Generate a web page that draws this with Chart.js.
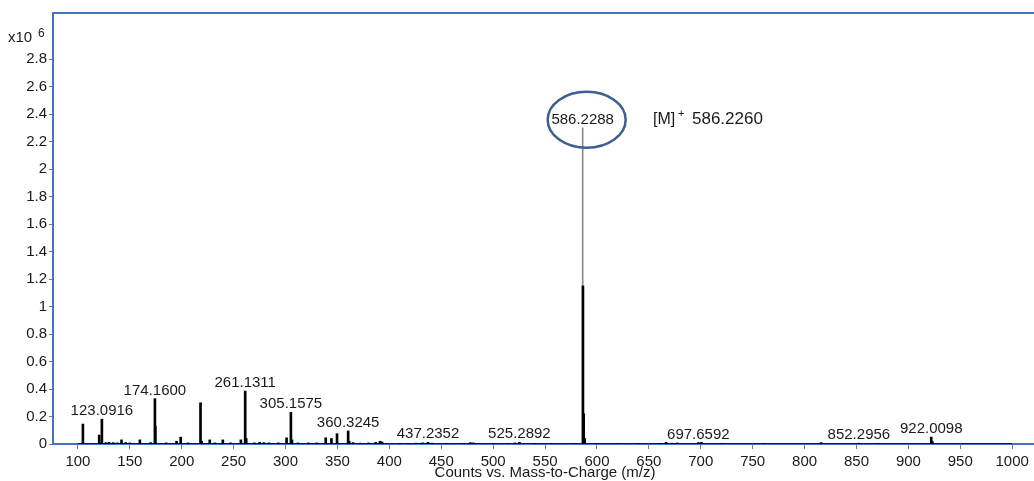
<!DOCTYPE html>
<html>
<head>
<meta charset="utf-8">
<script src="https://cdn.jsdelivr.net/npm/chart.js@4/dist/chart.umd.min.js"></script>
<style>
  html, body { margin: 0; padding: 0; background: #fff; }
  #spectrum { display: block; }
</style>
</head>
<body>
<canvas id="spectrum" width="1034" height="481"></canvas>
<script>
// Mass spectrum data (intensity in counts x10^6)
const peakMz = [
  104.8, 120.5, 123.09, 127, 130, 134, 138, 142, 146, 150, 159.7, 170,
  174.16, 174.6, 185, 195, 199, 206, 218.1, 219.1, 227, 232, 239.6, 247,
  257, 261.13, 262.1, 270, 275, 279, 284, 293, 301, 305.16, 306.2, 312,
  322, 330, 338.7, 344.2, 349.6, 360.32, 361.3, 365, 372, 380, 387, 391,
  393, 410, 418, 426, 432, 437.24, 441, 455, 470, 478, 481, 500, 515, 521,
  525.29, 540, 556, 578, 586.5, 587.2, 588.2, 600, 620, 640, 660, 666.6,
  672, 677.5, 697.66, 700.6, 720.9, 760, 816, 852.3, 870, 922.01, 923
];
const peakIntensity = [
  0.145, 0.065, 0.18, 0.01, 0.012, 0.01, 0.008, 0.03, 0.01, 0.008, 0.03, 0.01,
  0.33, 0.13, 0.008, 0.02, 0.05, 0.008, 0.30, 0.02, 0.03, 0.008, 0.03, 0.008,
  0.03, 0.385, 0.04, 0.008, 0.012, 0.01, 0.008, 0.008, 0.045, 0.23, 0.03, 0.008,
  0.008, 0.008, 0.045, 0.04, 0.075, 0.095, 0.02, 0.01, 0.006, 0.008, 0.012, 0.02,
  0.015, 0.005, 0.005, 0.006, 0.008, 0.012, 0.006, 0.005, 0.005, 0.01, 0.008, 0.004, 0.005, 0.008,
  0.012, 0.004, 0.005, 0.004, 1.15, 0.22, 0.04, 0.004, 0.004, 0.005, 0.005, 0.012,
  0.006, 0.008, 0.01, 0.012, 0.004, 0.003, 0.01, 0.006, 0.003, 0.05, 0.02
];

// base peak (drawn as thin grey stick)
const mainPeakMz = [586.2288];
const mainPeakIntensity = [2.30];

// annotated peaks
const labelMz = [123.09, 174.16, 261.13, 305.16, 360.32, 437.24, 525.29, 586.2288, 697.66, 852.3, 922.01];
const labelIntensity = [0.18, 0.33, 0.385, 0.23, 0.095, 0.012, 0.012, 2.30, 0.01, 0.006, 0.05];
const labelText = ['123.0916', '174.1600', '261.1311', '305.1575', '360.3245', '437.2352',
  '525.2892', '586.2288', '697.6592', '852.2956', '922.0098'];

// scan range / axes
const scanRange = [100, 1000];
const xTicks = [100, 150, 200, 250, 300, 350, 400, 450, 500, 550, 600, 650, 700, 750, 800, 850, 900, 950, 1000];
const yTicks = [0, 0.2, 0.4, 0.6, 0.8, 1, 1.2, 1.4, 1.6, 1.8, 2, 2.2, 2.4, 2.6, 2.8];

const FRAME_BLUE = '#4672c4';
const TEXT = '#1a1a1a';
const FONT = "'Liberation Sans', Arial, sans-serif";

const annotations = {
  id: 'annotations',
  afterDatasetsDraw(chart) {
    const { ctx, chartArea, scales } = chart;
    const x = scales.x, y = scales.y;
    ctx.save();

    // top frame line
    ctx.strokeStyle = FRAME_BLUE;
    ctx.lineWidth = 2;
    ctx.beginPath();
    ctx.moveTo(chartArea.left, chartArea.top);
    ctx.lineTo(chartArea.right, chartArea.top);
    ctx.stroke();

    // peak labels
    ctx.fillStyle = TEXT;
    ctx.font = '15px ' + FONT;
    ctx.textAlign = 'center';
    ctx.textBaseline = 'alphabetic';
    labelMz.forEach((mz, i) => {
      const px = x.getPixelForValue(mz);
      const py = y.getPixelForValue(labelIntensity[i]) - 4;
      ctx.fillText(labelText[i], px, py);
    });

    // ellipse around base peak label
    const mx = x.getPixelForValue(mainPeakMz[0]);
    const my = y.getPixelForValue(mainPeakIntensity[0]);
    ctx.strokeStyle = '#3d5f91';
    ctx.lineWidth = 2.5;
    ctx.beginPath();
    ctx.ellipse(mx + 4, my - 8, 39, 28, 0, 0, Math.PI * 2);
    ctx.stroke();

    // [M]+ annotation
    ctx.textAlign = 'left';
    ctx.font = '16px ' + FONT;
    ctx.fillText('[M]', 653, 124);
    ctx.font = '11px ' + FONT;
    ctx.fillText('+', 678, 117);
    ctx.font = '17px ' + FONT;
    ctx.fillText('586.2260', 692, 124);

    // y multiplier
    ctx.font = '15px ' + FONT;
    ctx.fillText('x10', 8, 42);
    ctx.font = '12px ' + FONT;
    ctx.fillText('6', 38, 37);

    // x axis title
    ctx.font = '15px ' + FONT;
    ctx.textAlign = 'center';
    ctx.fillText('Counts vs. Mass-to-Charge (m/z)', 545, 477);

    ctx.restore();
  }
};

const ctx = document.getElementById('spectrum');

new Chart(ctx, {
  type: 'bar',
  data: {
    datasets: [
      {
        type: 'line',
        data: scanRange.map(v => ({ x: v, y: 0 })),
        borderColor: '#000',
        borderWidth: 1.5,
        pointRadius: 0,
        order: 3
      },
      {
        data: mainPeakMz.map((v, i) => ({ x: v, y: mainPeakIntensity[i] })),
        backgroundColor: '#8a8a8a',
        barThickness: 1,
        grouped: false,
        order: 2
      },
      {
        data: peakMz.map((v, i) => ({ x: v, y: peakIntensity[i] })),
        backgroundColor: '#000',
        barThickness: 2,
        grouped: false,
        order: 1
      }
    ]
  },
  options: {
    responsive: false,
    animation: false,
    devicePixelRatio: 1,
    layout: { padding: { top: 13, right: 0, left: 0, bottom: 0 } },
    plugins: {
      legend: { display: false },
      tooltip: { enabled: false }
    },
    scales: {
      x: {
        type: 'linear',
        offset: false,
        min: 76,
        max: 1021,
        afterBuildTicks: scale => { scale.ticks = xTicks.map(v => ({ value: v })); },
        afterFit: scale => { scale.height = 37; },
        ticks: {
          color: TEXT,
          font: { family: FONT, size: 15 },
          maxRotation: 0,
          autoSkip: false,
          padding: 4,
          callback: v => String(v)
        },
        grid: {
          offset: false,
          drawOnChartArea: false,
          drawTicks: true,
          tickLength: 5,
          color: '#777'
        },
        border: { color: FRAME_BLUE, width: 2 }
      },
      y: {
        min: 0,
        max: 3.135,
        afterBuildTicks: scale => { scale.ticks = yTicks.map(v => ({ value: v })); },
        afterFit: scale => { scale.width = 53; },
        ticks: {
          color: TEXT,
          font: { family: FONT, size: 15 },
          padding: 2,
          callback: v => String(+v.toFixed(1))
        },
        grid: {
          drawOnChartArea: false,
          drawTicks: true,
          tickLength: 4,
          color: '#777'
        },
        border: { color: FRAME_BLUE, width: 2 }
      }
    }
  },
  plugins: [annotations]
});
</script>
</body>
</html>
